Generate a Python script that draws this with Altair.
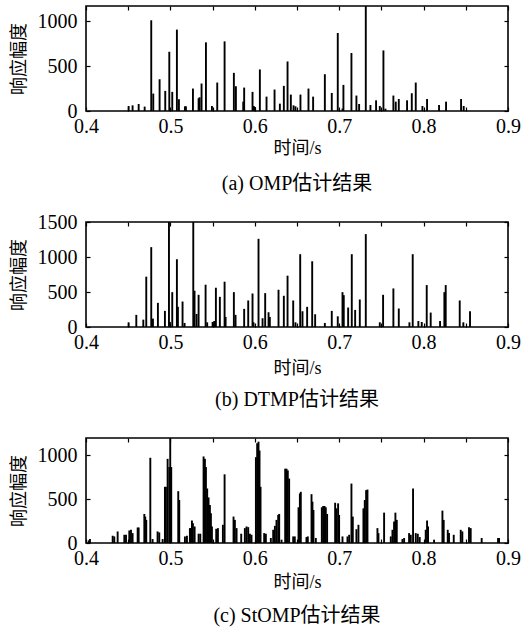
import altair as alt
import pandas as pd

# ---------------- data ----------------
# (a) OMP
omp_t = [0.4505, 0.4552, 0.4624, 0.4695, 0.4773, 0.4797, 0.4872, 0.4939, 0.4987, 0.5022,
         0.5077, 0.5101, 0.5172, 0.5184, 0.5267, 0.5334, 0.5346, 0.5369, 0.5421, 0.5492,
         0.5555, 0.5642, 0.5752, 0.5776, 0.5863, 0.5874, 0.5973, 0.5989, 0.6001, 0.6060,
         0.6139, 0.6234, 0.6297, 0.6344, 0.6388, 0.6427, 0.6459, 0.6482, 0.6541, 0.6636,
         0.6691, 0.6830, 0.6912, 0.6983, 0.7039, 0.7050, 0.7145, 0.7204, 0.7236, 0.7315,
         0.7370, 0.7437, 0.7481, 0.7524, 0.7548, 0.7642, 0.7670, 0.7706, 0.7804, 0.7860,
         0.7907, 0.7986, 0.8041, 0.8183, 0.8266, 0.8444, 0.8475]
omp_a = [56, 63, 78, 49, 1011, 194, 354, 224, 660, 213,
         907, 131, 52, 52, 250, 142, 153, 306, 765, 56,
         317, 776, 425, 276, 104, 261, 213, 56, 45, 463,
         160, 239, 82, 280, 552, 183, 63, 52, 183, 250,
         160, 410, 201, 869, 26, 291, 646, 172, 78, 1170,
         67, 119, 56, 675, 26, 172, 104, 134, 119, 198,
         317, 56, 134, 67, 104, 134, 56]

# (b) DTMP
dtmp_t = [0.4505, 0.4596, 0.4679, 0.4714, 0.4773, 0.4793, 0.4852, 0.4935, 0.4983, 0.4994,
          0.5022, 0.5077, 0.5089, 0.5144, 0.5168, 0.5271, 0.5286, 0.5310, 0.5334, 0.5417,
          0.5436, 0.5500, 0.5519, 0.5539, 0.5586, 0.5642, 0.5654, 0.5752, 0.5772, 0.5874,
          0.5922, 0.5973, 0.5985, 0.6044, 0.6092, 0.6123, 0.6163, 0.6178, 0.6281, 0.6344,
          0.6388, 0.6455, 0.6482, 0.6538, 0.6565, 0.6620, 0.6680, 0.6715, 0.6830, 0.6912,
          0.6983, 0.7039, 0.7054, 0.7106, 0.7149, 0.7189, 0.7244, 0.7315, 0.7481, 0.7520,
          0.7642, 0.7706, 0.7832, 0.7871, 0.7938, 0.7978, 0.8037, 0.8084, 0.8195, 0.8246,
          0.8262, 0.8428, 0.8471, 0.8550]
dtmp_a = [67, 173, 105, 719, 1141, 120, 345, 230, 1500, 72,
          498, 968, 288, 364, 58, 1500, 518, 187, 460, 604,
          67, 72, 86, 561, 431, 647, 144, 498, 173, 259,
          379, 479, 67, 1260, 125, 484, 211, 144, 532, 446,
          733, 379, 67, 1040, 225, 288, 939, 182, 58, 230,
          153, 498, 455, 278, 1040, 244, 393, 1327, 67, 460,
          551, 264, 67, 1040, 86, 72, 599, 206, 86, 498,
          599, 379, 67, 225]

# (c) StOMP
stomp_t = [0.4032, 0.4047, 0.4316, 0.4335, 0.4375, 0.4454, 0.4474, 0.4513, 0.4533, 0.4552,
           0.4612, 0.4624, 0.4691, 0.4702, 0.4714, 0.4762, 0.4789, 0.4848, 0.4868, 0.4908,
           0.4935, 0.4947, 0.4967, 0.4987, 0.4998, 0.5010, 0.5093, 0.5105, 0.5172, 0.5196,
           0.5231, 0.5243, 0.5255, 0.5267, 0.5287, 0.5334, 0.5354, 0.5393, 0.5409, 0.5421,
           0.5436, 0.5452, 0.5468, 0.5480, 0.5492, 0.5543, 0.5563, 0.5622, 0.5642, 0.5748,
           0.5764, 0.5784, 0.5839, 0.5882, 0.5902, 0.5922, 0.5942, 0.5961, 0.6013, 0.6028,
           0.6044, 0.6056, 0.6068, 0.6111, 0.6131, 0.6190, 0.6218, 0.6238, 0.6257, 0.6277,
           0.6289, 0.6317, 0.6360, 0.6376, 0.6391, 0.6407, 0.6455, 0.6474, 0.6518, 0.6534,
           0.6545, 0.6612, 0.6628, 0.6672, 0.6683, 0.6695, 0.6723, 0.6794, 0.6810, 0.6826,
           0.6841, 0.6857, 0.6952, 0.6968, 0.6987, 0.6999, 0.7039, 0.7098, 0.7118, 0.7145,
           0.7161, 0.7204, 0.7228, 0.7287, 0.7303, 0.7319, 0.7335, 0.7453, 0.7465, 0.7532,
           0.7611, 0.7631, 0.7650, 0.7666, 0.7682, 0.7749, 0.7769, 0.7828, 0.7848, 0.7875,
           0.7907, 0.7931, 0.7954, 0.8025, 0.8041, 0.8053, 0.8124, 0.8223, 0.8238, 0.8286,
           0.8301, 0.8357, 0.8440, 0.8459, 0.8538, 0.8558, 0.8688, 0.8882, 0.8894]
stomp_a = [30, 45, 83, 75, 132, 94, 94, 143, 151, 113,
           177, 177, 332, 302, 264, 974, 45, 132, 121, 45,
           642, 642, 962, 868, 1200, 868, 592, 491, 75, 83,
           170, 170, 257, 226, 189, 106, 106, 989, 962, 868,
           623, 521, 434, 340, 189, 162, 170, 208, 785, 302,
           264, 170, 106, 170, 189, 181, 106, 94, 981, 1140,
           1158, 1057, 642, 113, 106, 57, 151, 196, 264, 321,
           332, 38, 849, 849, 830, 736, 75, 75, 408, 566,
           585, 68, 75, 558, 472, 377, 57, 408, 423, 423,
           408, 332, 460, 396, 453, 321, 75, 75, 94, 679,
           302, 158, 208, 396, 491, 604, 611, 170, 113, 347,
           75, 151, 245, 347, 264, 45, 57, 113, 94, 623,
           113, 106, 68, 151, 257, 189, 38, 370, 264, 151,
           113, 94, 151, 132, 181, 170, 57, 57, 57]

x_ticks = [0.4, 0.45, 0.5, 0.55, 0.6, 0.65, 0.7, 0.75, 0.8, 0.85, 0.9]
x_domain = [0.4, 0.9]
y_ticks_a = [0, 500, 1000]
y_ticks_b = [0, 500, 1000, 1500]
y_ticks_c = [0, 500, 1000]
y_max_a = 1170
y_max_b = 1500
y_max_c = 1200

x_title = "时间/s"
y_title = "响应幅度"
captions = ["(a) OMP估计结果", "(b) DTMP估计结果", "(c) StOMP估计结果"]

# ---------------- style ----------------
SERIF = "'Liberation Serif', 'Noto Sans CJK SC'"
W, H = 422, 105
TICK = 4
X_LABEL_EXPR = "abs(datum.value*10 - round(datum.value*10)) < 0.001 ? format(datum.value, '.1f') : ''"


def panel(t, a, ymax, yticks, caption, x_title_pad, caption_offset):
    df = pd.DataFrame({"t": t, "a": a})
    xs = alt.Scale(domain=x_domain, nice=False, zero=False)
    ys = alt.Scale(domain=[0, ymax], nice=False)
    spikes = alt.Chart(df).mark_rule(color="black", strokeWidth=1.9).encode(
        x=alt.X("t:Q", scale=xs,
                axis=alt.Axis(orient="bottom", values=x_ticks, labelExpr=X_LABEL_EXPR,
                              title=x_title, offset=-TICK, tickSize=TICK, labelPadding=5,
                              labelOverlap=False, labelFlush=False, titlePadding=x_title_pad)),
        y=alt.Y("a:Q", scale=ys,
                axis=alt.Axis(orient="left", values=yticks, format="d", title=y_title,
                              offset=-TICK, tickSize=TICK, labelPadding=9,
                              labelOverlap=False, titlePadding=9)),
        y2=alt.datum(0),
    )
    mirror = alt.Chart(df).mark_point(opacity=0).encode(
        x=alt.X("t:Q", scale=xs,
                axis=alt.Axis(orient="top", values=x_ticks, labels=False, title=None,
                              offset=-TICK, tickSize=TICK)),
        y=alt.Y("a:Q", scale=ys,
                axis=alt.Axis(orient="right", values=yticks, labels=False, title=None,
                              offset=-TICK, tickSize=TICK)),
    )
    return alt.layer(spikes, mirror).resolve_axis(x="independent", y="independent").properties(
        width=W, height=H,
        title=alt.TitleParams(caption, orient="bottom", font=SERIF, fontSize=20,
                              fontWeight="normal", color="black", anchor="middle",
                              frame="group", offset=caption_offset),
    )


chart = alt.vconcat(
    panel(omp_t, omp_a, y_max_a, y_ticks_a, captions[0], 3, 17),
    panel(dtmp_t, dtmp_a, y_max_b, y_ticks_b, captions[1], 7, 13),
    panel(stomp_t, stomp_a, y_max_c, y_ticks_c, captions[2], 5, 15),
    spacing=111,
    bounds="flush",
).properties(
    padding={"left": 9, "top": 2, "right": 5, "bottom": 0},
    background="white",
).configure_view(
    stroke="black", strokeWidth=1.6,
).configure_axis(
    grid=False, domain=False,
    labelFont=SERIF, labelFontSize=20, labelColor="black",
    titleFont=SERIF, titleFontSize=18, titleFontWeight="normal", titleColor="black",
    tickColor="black", tickWidth=1.2,
)

chart.save("out.html", embed_options={"renderer": "svg", "actions": False})
